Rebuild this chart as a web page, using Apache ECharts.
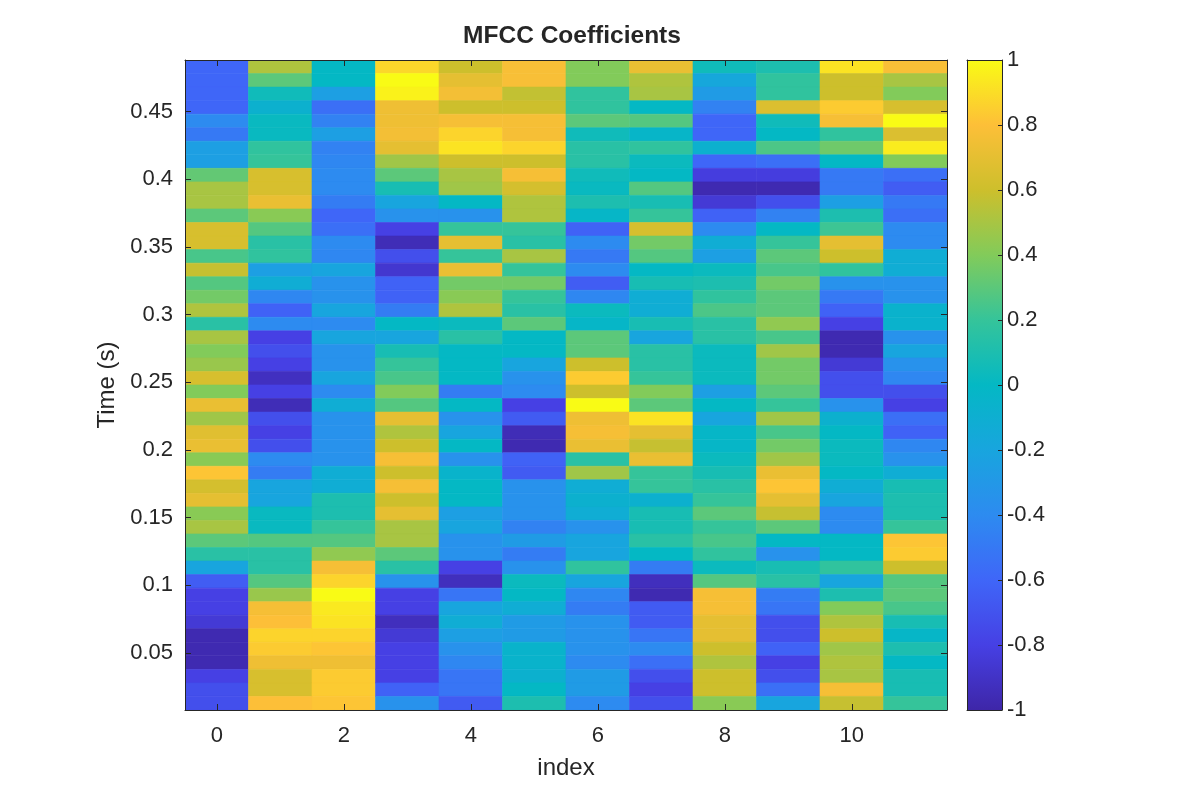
<!DOCTYPE html>
<html>
<head>
<meta charset="utf-8">
<script src="https://cdn.jsdelivr.net/npm/echarts@6/dist/echarts.min.js"></script>
<style>
html, body { margin: 0; padding: 0; background: #ffffff; }
#chart { width: 1200px; height: 800px; }
</style>
</head>
<body>
<div id="chart"></div>
<script>
// ---- Data ----
// MFCC coefficient index (x axis)
const coefIndex = [0, 1, 2, 3, 4, 5, 6, 7, 8, 9, 10, 11];
// Frame grid: 48 frames, listed from the latest frame (top, t = 0.483 s) to the earliest (bottom, t = 0.013 s)
const latestFrameTime = 0.483;
const frameHop = 0.01;

// One array per coefficient, values per frame (top -> bottom)
const coef0 = [-0.6,-0.6,-0.6,-0.6,-0.4,-0.5,-0.25,-0.25, 0.32,0.5,0.5,0.3,0.64,0.64,0.25,0.58, 0.28,0.36,0.52,0.15,0.5,0.4,0.46,0.64, 0.4,0.72,0.48,0.68,0.72,0.42,0.82,0.63, 0.7,0.42,0.5,0.3,0.15,-0.2,-0.65,-0.8, -0.8,-0.85,-0.97,-0.97,-0.97,-0.8,-0.72,-0.72];
const coef1 = [0.52,0.3,0.05,-0.08,0.02,0.02,0.18,0.2, 0.64,0.64,0.72,0.42,0.28,0.15,0.18,-0.25, -0.12,-0.42,-0.62,-0.4,-0.8,-0.72,-0.8,-0.92, -0.8,-0.95,-0.72,-0.8,-0.72,-0.4,-0.48,-0.2, -0.2,0.02,0.02,0.28,0.15,0.15,0.28,0.46, 0.77,0.8,0.87,0.84,0.74,0.64,0.64,0.8];
const coef2 = [0.0,0.0,-0.25,-0.55,-0.45,-0.25,-0.45,-0.42, -0.4,-0.4,-0.48,-0.6,-0.55,-0.4,-0.42,-0.2, -0.35,-0.35,-0.2,-0.4,-0.2,-0.35,-0.35,-0.2, -0.4,-0.12,-0.35,-0.35,-0.35,-0.35,-0.12,-0.12, 0.1,0.1,0.2,0.28,0.44,0.77,0.87,1.0, 0.94,0.92,0.87,0.82,0.74,0.84,0.84,0.82];
const coef3 = [0.88,1.0,0.97,0.74,0.74,0.76,0.7,0.48, 0.3,0.08,-0.2,-0.35,-0.8,-0.95,-0.72,-0.87, -0.62,-0.62,-0.48,0.0,-0.2,0.08,0.2,0.25, 0.4,0.28,0.7,0.52,0.6,0.77,0.6,0.77, 0.6,0.7,0.5,0.5,0.3,0.15,-0.35,-0.8, -0.8,-0.93,-0.85,-0.8,-0.8,-0.8,-0.62,-0.35];
const coef4 = [0.6,0.7,0.76,0.6,0.77,0.87,0.92,0.6, 0.5,0.48,0.0,-0.35,0.2,0.7,0.2,0.72, 0.36,0.42,0.52,0.03,0.15,0.0,0.0,0.0, -0.48,0.0,-0.35,-0.2,0.0,-0.35,-0.05,0.0, 0.0,-0.25,-0.2,-0.35,-0.35,-0.8,-0.93,-0.52, -0.2,-0.12,-0.25,-0.35,-0.42,-0.52,-0.52,-0.66];
const coef5 = [0.78,0.78,0.57,0.6,0.77,0.77,0.87,0.6, 0.77,0.63,0.52,0.52,0.2,0.15,0.5,0.2, 0.36,0.2,0.15,0.3,0.0,0.0,-0.2,-0.35, -0.4,-0.8,-0.66,-0.95,-0.97,-0.62,-0.66,-0.35, -0.35,-0.35,-0.45,-0.28,-0.48,-0.35,0.03,0.0, -0.12,-0.28,-0.28,-0.05,-0.05,-0.08,0.0,0.1];
const coef6 = [0.4,0.4,0.18,0.18,0.3,0.05,0.15,0.15, 0.05,0.02,0.1,-0.02,-0.62,-0.4,-0.5,-0.4, -0.65,-0.42,0.03,-0.02,0.3,0.3,0.6,0.84, 0.6,1.0,0.74,0.77,0.72,0.15,0.48,-0.12, -0.08,-0.12,-0.35,-0.2,-0.2,0.18,-0.2,-0.42, -0.48,-0.35,-0.35,-0.35,-0.4,-0.28,-0.28,-0.4];
const coef7 = [0.72,0.52,0.5,0.0,0.28,-0.03,0.18,0.03, 0.0,0.28,0.08,0.2,0.64,0.36,0.28,0.0, 0.08,-0.12,-0.12,0.08,-0.2,0.15,0.15,0.2, 0.4,0.3,0.92,0.7,0.58,0.72,0.2,0.2, -0.08,0.08,0.08,0.15,0.0,-0.48,-0.93,-0.97, -0.66,-0.66,-0.52,-0.4,-0.55,-0.72,-0.8,-0.72];
const coef8 = [0.05,-0.18,-0.28,-0.45,-0.6,-0.6,-0.08,-0.6, -0.82,-0.97,-0.85,-0.62,-0.4,-0.12,-0.25,0.03, 0.1,0.18,0.26,0.15,0.15,0.03,0.03,0.03, -0.25,0.0,-0.2,-0.02,-0.02,0.03,0.08,0.15, 0.2,0.3,0.2,0.25,0.18,0.03,0.28,0.77, 0.77,0.7,0.7,0.6,0.52,0.6,0.6,0.42];
const coef9 = [0.1,0.18,0.18,0.66,0.05,0.0,0.26,-0.55, -0.82,-0.97,-0.72,-0.45,0.0,0.2,0.3,0.25, 0.36,0.3,0.3,0.44,0.25,0.48,0.36,0.36, 0.3,0.2,0.48,0.25,0.36,0.48,0.72,0.82, 0.7,0.58,0.3,0.0,-0.35,0.08,0.15,-0.48, -0.52,-0.72,-0.72,-0.62,-0.8,-0.72,-0.55,-0.2];
const coef10 = [0.92,0.6,0.6,0.84,0.77,0.18,0.35,0.0, -0.5,-0.5,-0.25,0.1,0.22,0.7,0.6,0.18, -0.35,-0.5,-0.62,-0.8,-0.97,-0.97,-0.85,-0.72, -0.72,-0.35,-0.08,0.0,0.03,0.03,0.0,-0.12, -0.2,-0.4,-0.4,0.0,0.0,0.18,-0.2,0.1, 0.4,0.52,0.6,0.48,0.52,0.5,0.77,0.58];
const coef11 = [0.78,0.5,0.4,0.64,1.0,0.66,0.95,0.4, -0.55,-0.65,-0.5,-0.55,-0.4,-0.4,-0.12,-0.12, -0.35,-0.35,-0.06,-0.06,-0.35,-0.2,-0.35,-0.42, -0.72,-0.8,-0.55,-0.62,-0.42,-0.35,-0.12,0.08, 0.1,0.1,0.2,0.82,0.84,0.6,0.28,0.3, 0.25,0.08,-0.02,0.1,0.0,0.08,0.08,0.2];

// Tick labels
const xTickValues = [0, 2, 4, 6, 8, 10];
const yTickValues = [0.05, 0.1, 0.15, 0.2, 0.25, 0.3, 0.35, 0.4, 0.45];
const colorbarTicks = [-1, -0.8, -0.6, -0.4, -0.2, 0, 0.2, 0.4, 0.6, 0.8, 1];
const colorRange = [-1, 1];
// Parula-like colour map
const parula = ['#3e26a8', '#4640e4', '#3f66f8', '#2d8bf0', '#18a5de', '#04b8c4', '#35c49a', '#82cb5a', '#cdbf2c', '#fdbf38', '#f9fb15'];

// ---- Build cells ----
const coefs = [coef0, coef1, coef2, coef3, coef4, coef5, coef6, coef7, coef8, coef9, coef10, coef11];
const cells = [];
coefs.forEach(function (col, ci) {
  col.forEach(function (v, r) {
    cells.push([coefIndex[ci], +(latestFrameTime - r * frameHop).toFixed(4), v]);
  });
});
const nFrames = coef0.length;
const yMin = +(latestFrameTime - (nFrames - 1) * frameHop - frameHop / 2).toFixed(4);
const yMax = +(latestFrameTime + frameHop / 2).toFixed(4);

const FONT = '"Liberation Sans", Arial, Helvetica, sans-serif';
const INK = '#262626';
const lineStyle = { color: INK, width: 1 };

function renderCell(params, api) {
  const x = api.value(0), t = api.value(1);
  const p0 = api.coord([x - 0.5, t + frameHop / 2]);
  const p1 = api.coord([x + 0.5, t - frameHop / 2]);
  const color = api.visual('color');
  return {
    type: 'rect',
    shape: { x: p0[0], y: p0[1], width: p1[0] - p0[0], height: p1[1] - p0[1] },
    style: { fill: color, stroke: color, lineWidth: 0.6 }
  };
}

function renderColorbar(params, api) {
  const p0 = api.coord([0, api.value(2)]);
  const p1 = api.coord([1, api.value(1)]);
  const stops = parula.map(function (c, i) { return { offset: i / (parula.length - 1), color: c }; });
  return {
    type: 'rect',
    shape: { x: p0[0], y: p0[1], width: p1[0] - p0[0], height: p1[1] - p0[1] },
    style: { fill: new echarts.graphic.LinearGradient(0, 1, 0, 0, stops) }
  };
}

const chart = echarts.init(document.getElementById('chart'), null, { renderer: 'canvas' });

const tickLabelStyle = { color: INK, fontSize: 22, fontFamily: FONT };
const axisLineStyle = { show: true, onZero: false, lineStyle: lineStyle };

const option = {
  backgroundColor: '#ffffff',
  animation: false,
  title: {
    text: 'MFCC Coefficients',
    left: 567,
    textAlign: 'center',
    top: 19,
    textStyle: { color: INK, fontSize: 24.5, fontWeight: 'bold', fontFamily: FONT }
  },
  grid: [
    { left: 185, right: 253, top: 60, bottom: 90 },
    { left: 967, width: 35, top: 60, bottom: 90 }
  ],
  visualMap: {
    show: false,
    type: 'continuous',
    min: colorRange[0],
    max: colorRange[1],
    dimension: 2,
    seriesIndex: 0,
    inRange: { color: parula }
  },
  xAxis: [
    {
      gridIndex: 0, type: 'value', position: 'bottom', min: -0.5, max: 11.5, z: 5,
      axisLine: axisLineStyle,
      axisTick: { show: true, inside: true, length: 6, customValues: xTickValues, lineStyle: lineStyle },
      axisLabel: Object.assign({ customValues: xTickValues, margin: 15 }, tickLabelStyle),
      splitLine: { show: false },
      name: 'index', nameLocation: 'middle', nameGap: 46,
      nameTextStyle: { color: INK, fontSize: 24, fontFamily: FONT }
    },
    {
      gridIndex: 0, type: 'value', position: 'top', min: -0.5, max: 11.5, z: 5,
      axisLine: axisLineStyle,
      axisTick: { show: true, inside: true, length: 6, customValues: xTickValues, lineStyle: lineStyle },
      axisLabel: { show: false },
      splitLine: { show: false }
    },
    {
      gridIndex: 1, type: 'value', position: 'bottom', min: 0, max: 1, z: 5,
      axisLine: axisLineStyle,
      axisTick: { show: false }, axisLabel: { show: false }, splitLine: { show: false }
    },
    {
      gridIndex: 1, type: 'value', position: 'top', min: 0, max: 1, z: 5,
      axisLine: axisLineStyle,
      axisTick: { show: false }, axisLabel: { show: false }, splitLine: { show: false }
    }
  ],
  yAxis: [
    {
      gridIndex: 0, type: 'value', position: 'left', min: yMin, max: yMax, z: 5,
      axisLine: axisLineStyle,
      axisTick: { show: true, inside: true, length: 6, customValues: yTickValues, lineStyle: lineStyle },
      axisLabel: Object.assign({ customValues: yTickValues, margin: 12 }, tickLabelStyle),
      splitLine: { show: false },
      name: 'Time (s)', nameLocation: 'middle', nameGap: 58,
      nameTextStyle: { color: INK, fontSize: 24, fontFamily: FONT }
    },
    {
      gridIndex: 0, type: 'value', position: 'right', min: yMin, max: yMax, z: 5,
      axisLine: axisLineStyle,
      axisTick: { show: true, inside: true, length: 6, customValues: yTickValues, lineStyle: lineStyle },
      axisLabel: { show: false },
      splitLine: { show: false }
    },
    {
      gridIndex: 1, type: 'value', position: 'left', min: colorRange[0], max: colorRange[1], z: 5,
      axisLine: axisLineStyle,
      axisTick: { show: false }, axisLabel: { show: false }, splitLine: { show: false }
    },
    {
      gridIndex: 1, type: 'value', position: 'right', min: colorRange[0], max: colorRange[1], z: 5,
      axisLine: axisLineStyle,
      axisTick: { show: true, inside: true, length: 4, customValues: colorbarTicks, lineStyle: lineStyle },
      axisLabel: Object.assign({ customValues: colorbarTicks, margin: 5 }, tickLabelStyle),
      splitLine: { show: false }
    }
  ],
  series: [
    {
      name: 'MFCC',
      type: 'custom',
      xAxisIndex: 0,
      yAxisIndex: 0,
      clip: true,
      renderItem: renderCell,
      encode: { x: 0, y: 1 },
      data: cells
    },
    {
      name: 'colorbar',
      type: 'custom',
      xAxisIndex: 2,
      yAxisIndex: 2,
      clip: true,
      renderItem: renderColorbar,
      encode: { x: 0, y: [1, 2] },
      data: [[0, colorRange[0], colorRange[1]]]
    }
  ]
};

chart.setOption(option);
</script>
</body>
</html>
